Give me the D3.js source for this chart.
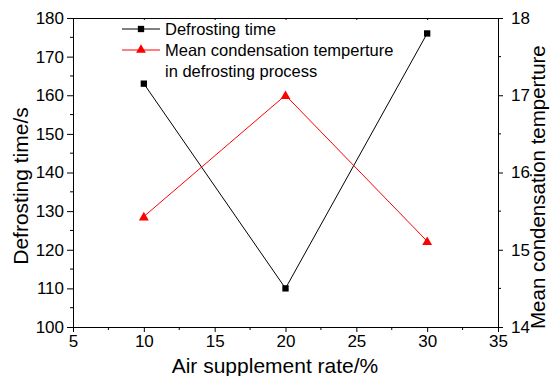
<!DOCTYPE html>
<html><head><meta charset="utf-8">
<script src="https://cdn.jsdelivr.net/npm/d3@7"></script>
<style>body{margin:0;background:#fff}svg{display:block}text{font-family:"Liberation Sans",Arial,sans-serif}</style>
</head><body><svg id="c" width="550" height="376"></svg>
<script>
const rates = [10, 20, 30];
const defrostTime = [163, 110, 176];
const condTemp = [15.43, 17.0, 15.11];
const xTicks = [5, 10, 15, 20, 25, 30, 35];
const yLeftTicks = [100, 110, 120, 130, 140, 150, 160, 170, 180];
const yRightTicks = [14, 15, 16, 17, 18];

const svg = d3.select("#c");
const L = 73, R = 498, T = 18, B = 327;
const x = d3.scaleLinear().domain([5, 35]).range([L, R]);
const yL = d3.scaleLinear().domain([100, 180]).range([B, T]);
const yR = d3.scaleLinear().domain([14, 18]).range([B, T]);
const FS = 17;

function style(g, fs) {
  g.selectAll("path").attr("stroke", "#000").attr("stroke-width", 1);
  g.selectAll("line").attr("stroke", "#000").attr("stroke-width", 1);
  g.selectAll("text").attr("font-size", fs).attr("fill", "#000").attr("font-family", "Liberation Sans, Arial, sans-serif");
}
const xMinor = d3.range(7.5, 35, 5);
const yLMinor = d3.range(105, 180, 10);
const yRMinor = d3.range(14.5, 18, 1);

// top axis
const gt = svg.append("g").attr("transform", `translate(0,${T})`)
  .call(d3.axisBottom(x).tickValues(xTicks).tickSize(2).tickFormat("").tickSizeOuter(0));
style(gt, FS);
// bottom
const gb = svg.append("g").attr("transform", `translate(0,${B})`)
  .call(d3.axisBottom(x).tickValues(xTicks).tickFormat(d3.format("d")).tickSize(5).tickPadding(3).tickSizeOuter(0));
style(gb, FS);
gb.append("g").selectAll("line").data(xMinor).join("line")
  .attr("x1", d => x(d)).attr("x2", d => x(d)).attr("y1", 0).attr("y2", 3).attr("stroke", "#000");
// left
const gl = svg.append("g").attr("transform", `translate(${L},0)`)
  .call(d3.axisLeft(yL).tickValues(yLeftTicks).tickFormat(d3.format("d")).tickSize(6).tickPadding(3).tickSizeOuter(0));
style(gl, FS);
gl.append("g").selectAll("line").data(yLMinor).join("line")
  .attr("y1", d => yL(d)).attr("y2", d => yL(d)).attr("x1", 0).attr("x2", -3).attr("stroke", "#000");
// right
const gr = svg.append("g").attr("transform", `translate(${R},0)`)
  .call(d3.axisRight(yR).tickValues(yRightTicks).tickFormat(d3.format("d")).tickSize(5).tickPadding(8).tickSizeOuter(0));
style(gr, FS);
gr.append("g").selectAll("line").data(yRMinor).join("line")
  .attr("y1", d => yR(d)).attr("y2", d => yR(d)).attr("x1", 0).attr("x2", 3).attr("stroke", "#000");

// axis titles
svg.append("text").attr("x", 275).attr("y", 373).attr("text-anchor", "middle")
  .attr("font-size", 21).text("Air supplement rate/%");
svg.append("text").attr("transform", "translate(28,186) rotate(-90)").attr("text-anchor", "middle")
  .attr("font-size", 21).text("Defrosting time/s");
svg.append("text").attr("transform", "translate(545,329) rotate(-90)").attr("text-anchor", "start")
  .attr("font-size", 20.5).text("Mean condensation temperture");

// series
const blackData = rates.map((r, i) => [r, defrostTime[i]]);
const redData = rates.map((r, i) => [r, condTemp[i]]);
svg.append("path").datum(blackData).attr("fill", "none").attr("stroke", "#000").attr("stroke-width", 1)
  .attr("d", d3.line().x(d => x(d[0])).y(d => yL(d[1])));
svg.append("path").datum(redData).attr("fill", "none").attr("stroke", "#ff0000").attr("stroke-width", 1)
  .attr("d", d3.line().x(d => x(d[0])).y(d => yR(d[1])));
const sq = d3.symbol().type(d3.symbolSquare).size(40);
const tri = d3.symbol().type(d3.symbolTriangle).size(42);
svg.selectAll(".sq").data(blackData).join("path").attr("class", "sq")
  .attr("transform", d => `translate(${x(d[0])},${yL(d[1])})`).attr("d", sq).attr("fill", "#000");
svg.selectAll(".tri").data(redData).join("path").attr("class", "tri")
  .attr("transform", d => `translate(${x(d[0])},${yR(d[1])+1})`).attr("d", tri).attr("fill", "#ff0000");

// legend
const lg = svg.append("g");
lg.append("line").attr("x1", 122).attr("x2", 160).attr("y1", 29).attr("y2", 29).attr("stroke", "#000");
lg.append("path").attr("transform", "translate(141,29)").attr("d", sq).attr("fill", "#000");
lg.append("text").attr("x", 165).attr("y", 35).attr("font-size", 16.5).text("Defrosting time");
lg.append("line").attr("x1", 122).attr("x2", 160).attr("y1", 50).attr("y2", 50).attr("stroke", "#ff0000");
lg.append("path").attr("transform", "translate(141,50)").attr("d", tri).attr("fill", "#ff0000");
lg.append("text").attr("x", 165).attr("y", 56).attr("font-size", 16.5).text("Mean condensation temperture");
lg.append("text").attr("x", 165).attr("y", 77).attr("font-size", 16.5).text("in defrosting process");
</script></body></html>
